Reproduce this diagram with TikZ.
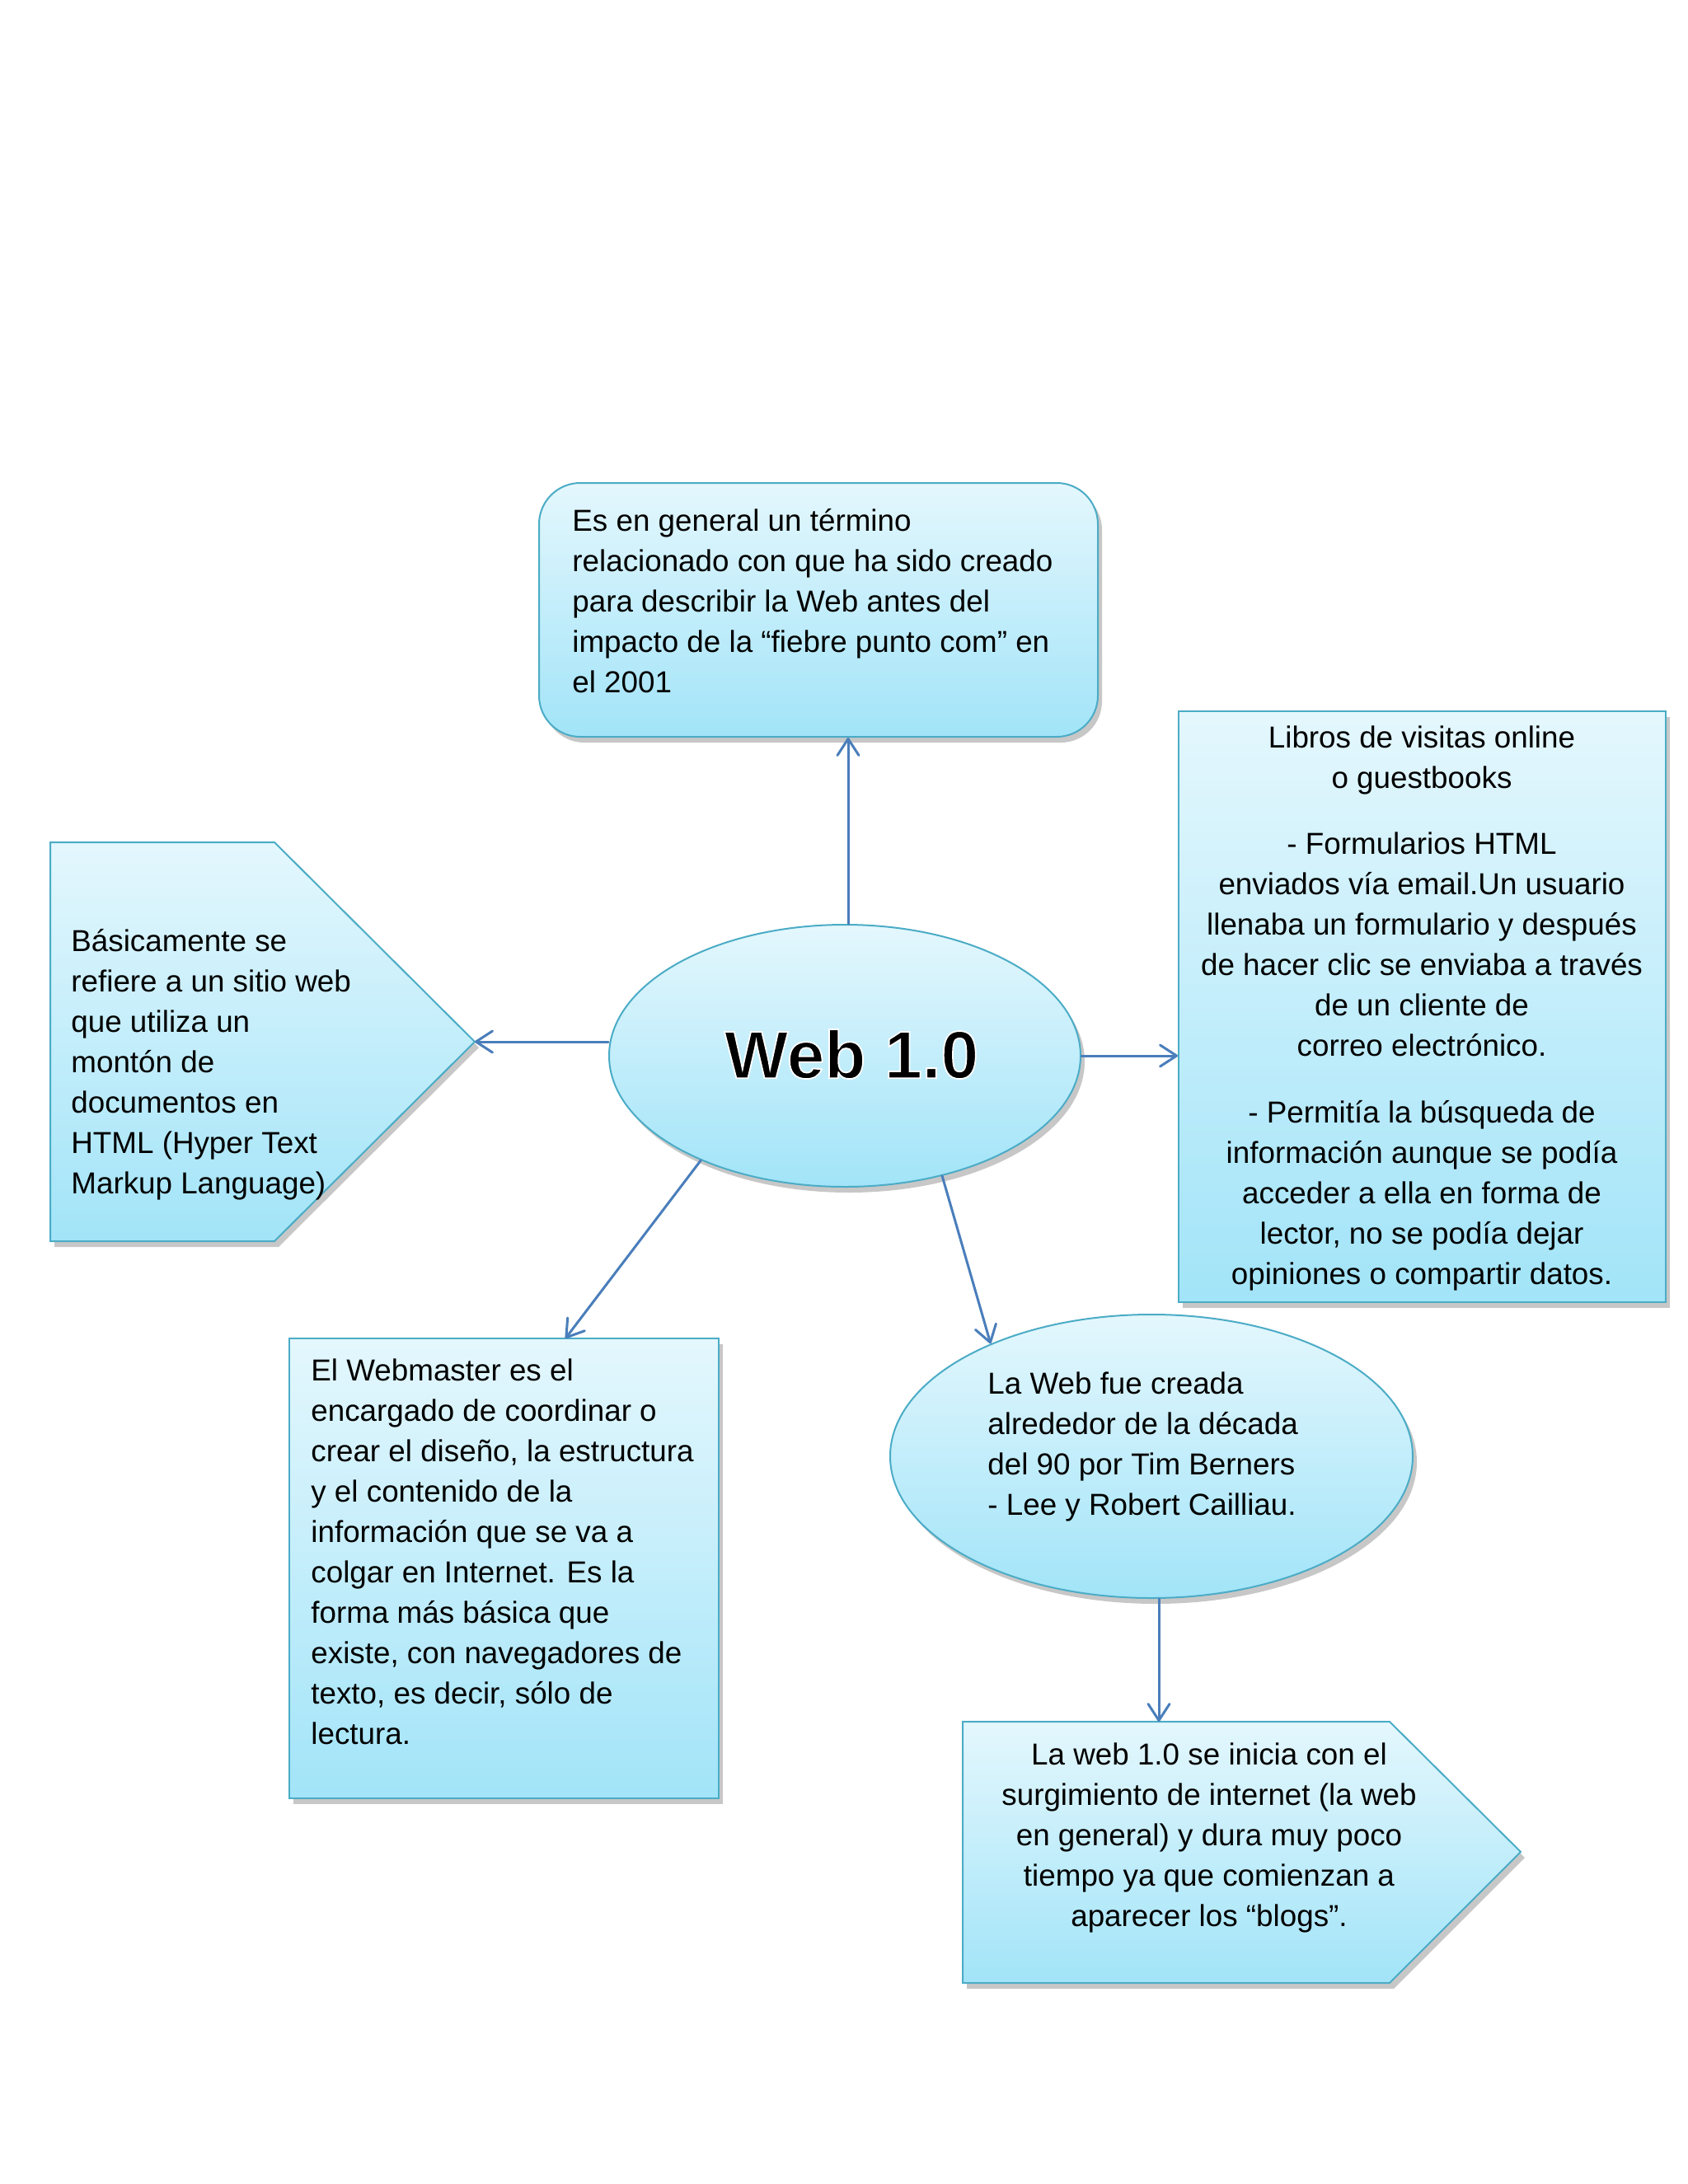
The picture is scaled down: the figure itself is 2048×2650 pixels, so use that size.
\documentclass[tikz,border=0pt]{standalone}
\usepackage{fontspec}
\setmainfont{Liberation Sans}
\usetikzlibrary{shapes.geometric,arrows.meta,shadows,calc}
\definecolor{boxtop}{HTML}{E4F7FD}
\definecolor{boxbot}{HTML}{A2E4F8}
\definecolor{boxline}{HTML}{4BACC6}
\definecolor{arrowc}{HTML}{4A7EBB}
\newcommand\lblock[2]{\vtop{\hsize=#1\relax\parindent=0pt\fontsize{18.4pt}{24.5pt}\selectfont\raggedright #2\par}}
\newcommand\cblock[2]{\vtop{\hsize=#1\relax\parindent=0pt\fontsize{18.4pt}{24.5pt}\selectfont\centering #2\par}}
\newcommand\outlinedtitle[1]{\special{pdf:literal direct 2 Tr 1 1 1 RG 0.9 w}#1\special{pdf:literal direct 0 Tr}}
\tikzset{
  boxshape/.style={draw=boxline, line width=1pt, top color=boxtop, bottom color=boxbot,
    drop shadow={shadow xshift=2.5pt, shadow yshift=-3.5pt, opacity=0.22, fill=black}},
  conn/.style={draw=arrowc, line width=1.5pt, line cap=round,
    -{Straight Barb[length=10pt,width=13pt,line width=1.5pt,round]}},
  txt/.style={inner sep=0pt, text=black},
  titlefont/.style={inner sep=0pt, font=\fontsize{41pt}{41pt}\selectfont\bfseries},
}
\begin{document}
\begin{tikzpicture}[x=0.5pt,y=-0.5pt]
\path[use as bounding box, fill=white] (0,0) rectangle (2048,2650);

% top rounded box
\node[boxshape, rounded corners=25pt, minimum width=339pt, minimum height=154pt, inner sep=0pt] (topbox) at (993,740) {};
\node[txt, anchor=base west] (toptext) at (694,644) {\lblock{330pt}{Es en general un término\\relacionado con que ha sido creado\\para describir la Web antes del\\impacto de la “fiebre punto com” en\\el 2001}};

% right box
\node[boxshape, minimum width=295.5pt, minimum height=358.5pt, inner sep=0pt] (rightbox) at (1725.5,1221.5) {};
\node[txt, anchor=base] (righttext) at (1725,907) {\cblock{290pt}{Libros de visitas online\\o guestbooks\\[15.5pt]- Formularios HTML\\enviados vía email.Un usuario\\llenaba un formulario y después\\de hacer clic se enviaba a través\\de un cliente de\\correo electrónico.\\[16pt]- Permitía la búsqueda de\\información aunque se podía\\acceder a ella en forma de\\lector, no se podía dejar\\opiniones o compartir datos.}};

% left pentagon
\path[boxshape] (61,1022) -- (333,1022) -- (576,1264) -- (333,1506) -- (61,1506) -- cycle;
\coordinate (lefttip) at (576,1264);
\node[txt, anchor=base west] (lefttext) at (86,1154) {\lblock{240pt}{Básicamente se\\refiere a un sitio web\\que utiliza un\\montón de\\documentos en\\HTML (Hyper Text\\Markup Language)}};

% bottom-left box
\node[boxshape, minimum width=260.5pt, minimum height=279pt, inner sep=0pt] (leftbox) at (611.5,1903) {};
\coordinate (lbtop) at (686,1624);
\node[txt, anchor=base west] (leftboxtext) at (377,1675) {\lblock{250pt}{El Webmaster es el\\encargado de coordinar o\\crear el diseño, la estructura\\y el contenido de la\\información que se va a\\colgar en Internet. Es la\\forma más básica que\\existe, con navegadores de\\texto, es decir, sólo de\\lectura.}};

% central ellipse
\node[boxshape, ellipse, minimum width=286pt, minimum height=159pt, inner sep=0pt] (web) at (1025,1281) {};
\node[titlefont, text=black] (title) at (1033,1279) {\outlinedtitle{Web 1.0}};

% bottom ellipse
\node[boxshape, ellipse, minimum width=317pt, minimum height=172pt, inner sep=0pt] (bottomell) at (1397,1767) {};
\node[txt, anchor=base west] (bottomelltext) at (1198,1691) {\lblock{240pt}{La Web fue creada\\alrededor de la década\\del 90 por Tim Berners\\- Lee y Robert Cailliau.}};

% bottom pentagon
\path[boxshape] (1168,2089) -- (1686,2089) -- (1845,2247) -- (1686,2406) -- (1168,2406) -- cycle;
\coordinate (bptop) at (1406,2089);
\node[txt, anchor=base] (bottomtext) at (1467,2141) {\cblock{270pt}{La web 1.0 se inicia con el\\surgimiento de internet (la web\\en general) y dura muy poco\\tiempo ya que comienzan a\\aparecer los “blogs”.}};

% connectors
\draw[conn] ([xshift=2pt]web.north) -- ([xshift=2pt]web.north |- topbox.south);
\draw[conn] (web.west |- lefttip) -- (lefttip);
\draw[conn] (web.east) -- (web.east -| rightbox.west);
\draw[conn] (web.216) -- (lbtop);
\draw[conn] (web.309) -- (bottomell.145);
\draw[conn] (bottomell.south -| bptop) -- (bptop);
\end{tikzpicture}
\end{document}
